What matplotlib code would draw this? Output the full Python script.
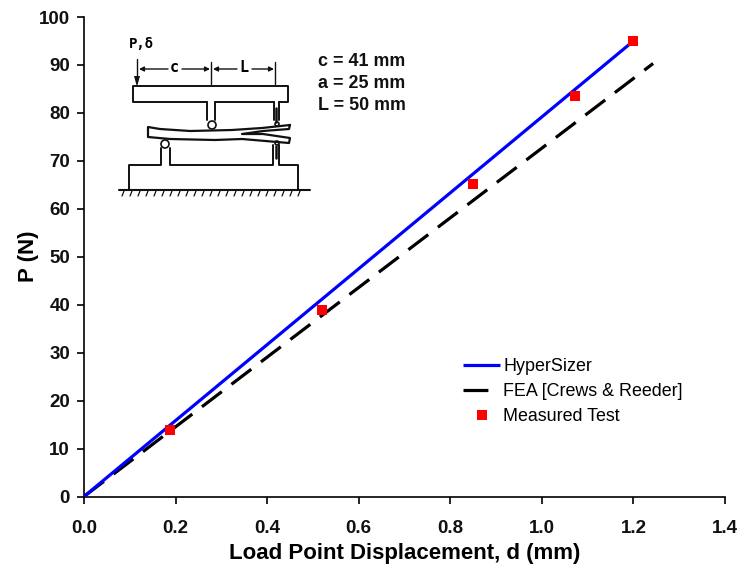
import matplotlib
matplotlib.use("Agg")
import matplotlib.pyplot as plt
from matplotlib.patches import Circle

plt.rcParams["font.family"] = ["Liberation Sans", "DejaVu Sans"]

# Data
hyper_x = [0.0, 1.2]
hyper_y = [0.0, 95.0]
fea_x = [0.0, 1.243]
fea_y = [0.0, 90.3]
test_x = [0.187, 0.52, 0.85, 1.073, 1.2]
test_y = [13.8, 38.8, 65.2, 83.5, 95.0]
x_ticks = [0.0, 0.2, 0.4, 0.6, 0.8, 1.0, 1.2, 1.4]
y_ticks = [0, 10, 20, 30, 40, 50, 60, 70, 80, 90, 100]
notes = ["c = 41 mm", "a = 25 mm", "L = 50 mm"]

W, H = 741, 567
fig = plt.figure(figsize=(W / 100, H / 100), dpi=100)
ax = fig.add_axes([84 / W, 1 - 496.5 / H, 641 / W, 479.5 / H])

# Curves
ax.plot(hyper_x, hyper_y, color="#0000ff", lw=2.3, solid_capstyle="butt", label="HyperSizer", zorder=3)
ax.plot(fea_x, fea_y, color="black", lw=2.3, linestyle=(0, (7.8, 3.8)), dash_capstyle="butt",
        label="FEA [Crews & Reeder]", zorder=2)
ax.plot(test_x, test_y, linestyle="none", marker="s", color="#ff0000", ms=7, mew=0, label="Measured Test", zorder=4)

ax.set_xlim(0, 1.4)
ax.set_ylim(0, 100)
ax.set_xticks(x_ticks)
ax.set_xticklabels([f"{v:.1f}" for v in x_ticks])
ax.set_yticks(y_ticks)
ax.spines["top"].set_visible(False)
ax.spines["right"].set_visible(False)
ax.spines["left"].set_linewidth(1.2)
ax.spines["bottom"].set_linewidth(1.2)
ax.tick_params(length=5, width=1.2, labelsize=13.5)
ax.tick_params(axis="x", pad=12)
ax.tick_params(axis="y", pad=5)
for lab in ax.get_xticklabels() + ax.get_yticklabels():
    lab.set_fontweight("bold")
    lab.set_color("#111111")
ax.set_xlabel("Load Point Displacement, d (mm)", fontsize=16, fontweight="bold", labelpad=4)
ax.set_ylabel("P (N)", fontsize=16, fontweight="bold", labelpad=0)

ax.legend(loc="upper left", bbox_to_anchor=(463 / W, 1 - 358 / H), bbox_transform=fig.transFigure,
          frameon=False, fontsize=12.9, handlelength=2.07, handletextpad=0.17, labelspacing=0.46,
          borderpad=0, borderaxespad=0)

# Overlay in pixel units for the test fixture sketch
ov = fig.add_axes([0, 0, 1, 1], facecolor="none")
ov.set_xlim(0, W)
ov.set_ylim(H, 0)
ov.axis("off")


def seg(*pts, lw=1.4):
    ov.plot([p[0] for p in pts], [p[1] for p in pts], color="#111111", lw=lw, solid_capstyle="round")


# top plate and its legs
seg((207, 102), (133, 102), (133, 86), (288, 86), (288, 102), (279, 102))
seg((215, 102), (274, 102))
seg((207, 102), (207, 120))
seg((215, 102), (215, 120))
seg((274, 102), (274, 120))
seg((279, 102), (279, 120))
seg((276, 108), (276, 122), lw=1.8)

# specimen with the delamination
seg((290, 125), (262, 128), (232, 130), (190, 131), (160, 129), (148, 127), (148, 137), (170, 139),
    (215, 140), (242, 139), (289, 143), (290, 138), (263, 134), (242, 134), (263, 131), (289, 129), (290, 125), lw=1.6)

# rollers
for cx, cy, r in [(212, 125, 4), (165, 144, 4), (277, 124, 2), (277, 143, 2)]:
    ov.add_patch(Circle((cx, cy), r, fill=False, ec="#111111", lw=1.2))

# base and its legs
seg((161, 148), (161, 165), (129, 165), (129, 189))
seg((170, 148), (170, 165), (273, 165), (273, 145))
seg((279, 145), (279, 165), (298, 165), (298, 189))
seg((276, 146), (276, 158), lw=1.8)

# ground line with hatching
seg((119, 190), (310, 190), lw=1.5)
for gx in range(122, 306, 8):
    seg((gx + 2, 191), (gx, 196), lw=0.9)

# dimension lines
seg((137, 59), (137, 76), lw=1.0)
ov.fill([134, 140, 137], [76, 76, 87], color="#111111", lw=0)
seg((211, 62), (211, 84), lw=1.0)
seg((275, 62), (275, 84), lw=1.0)
arrow = dict(arrowstyle="-|>", color="#111111", lw=1.0, mutation_scale=7, shrinkA=0, shrinkB=0)
ov.annotate("", xy=(139, 69), xytext=(168, 69), arrowprops=arrow)
ov.annotate("", xy=(210, 69), xytext=(182, 69), arrowprops=arrow)
ov.annotate("", xy=(213, 69), xytext=(237, 69), arrowprops=arrow)
ov.annotate("", xy=(274, 69), xytext=(252, 69), arrowprops=arrow)
ov.text(174, 68, "c", family="DejaVu Sans Mono", fontweight="bold", fontsize=11, ha="center", va="center")
ov.text(244, 68, "L", family="DejaVu Sans Mono", fontweight="bold", fontsize=11, ha="center", va="center")
ov.text(129, 44, "P,δ", family="DejaVu Sans Mono", fontweight="bold", fontsize=10, ha="left", va="center")

for ty, note in zip([62, 84, 106], notes):
    ov.text(318, ty, note, fontsize=12.9, fontweight="bold", ha="left", va="center", color="#111111")

fig.savefig("out.png", dpi=100, facecolor="white")
